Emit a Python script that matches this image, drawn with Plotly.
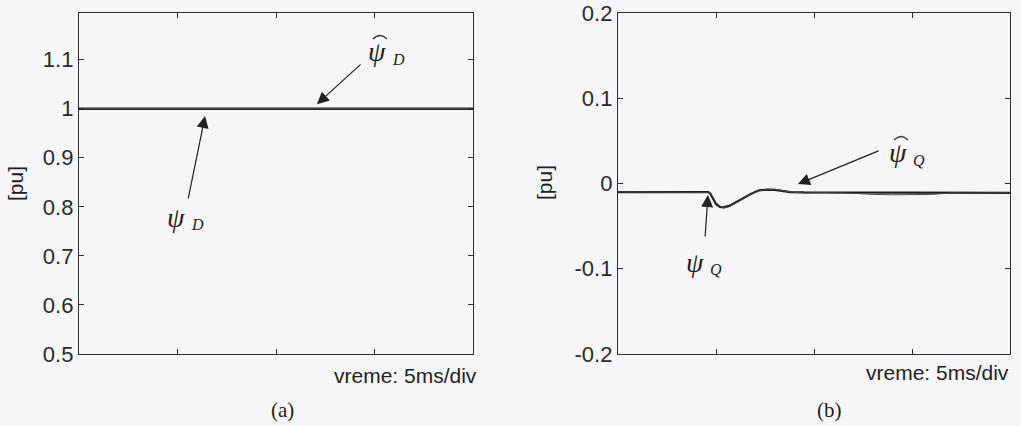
import plotly.graph_objects as go

# Flux linkages in pu; time in ms (5 ms/div, four divisions)
t_d = [0, 20]
psi_d = [1.0, 1.0]
psi_d_hat = [1.0, 1.0]

t_q = [0, 4.6, 4.7, 4.85, 5.0, 5.2, 5.4, 5.7, 6.0, 6.4, 6.8, 7.2, 7.6, 8.0, 8.4, 8.8,
       9.5, 10.5, 12, 13, 14, 15, 16, 17, 18, 19, 20]
psi_q = [-0.0100, -0.0100, -0.0115, -0.0180, -0.0240, -0.0275, -0.0280, -0.0260, -0.0220,
         -0.0170, -0.0120, -0.0080, -0.0072, -0.0074, -0.0085, -0.0100, -0.0105, -0.0105,
         -0.0108, -0.0110, -0.0112, -0.0112, -0.0110, -0.0110, -0.0110, -0.0110, -0.0110]
psi_q_hat = [-0.0098, -0.0098, -0.0105, -0.0160, -0.0225, -0.0270, -0.0285, -0.0270, -0.0230,
             -0.0175, -0.0125, -0.0085, -0.0068, -0.0068, -0.0082, -0.0098, -0.0112, -0.0108,
             -0.0115, -0.0128, -0.0132, -0.0133, -0.0128, -0.0112, -0.0110, -0.0108, -0.0110]

x_ticks = [5, 10, 15]
yd_ticks = [0.5, 0.6, 0.7, 0.8, 0.9, 1.0, 1.1]
yd_text = ["0.5", "0.6", "0.7", "0.8", "0.9", "1", "1.1"]
yq_ticks = [-0.2, -0.1, 0, 0.1, 0.2]
yq_text = ["-0.2", "-0.1", "0", "0.1", "0.2"]

W, H = 1021, 426
BG = "#f6f6f8"
INK = "#1c1c1c"
AX = "#2e2e2e"
SANS = "Liberation Sans, Arial, sans-serif"
SERIF = "Liberation Serif, Times New Roman, serif"

fig = go.Figure()

fig.add_trace(go.Scatter(x=t_d, y=psi_d, xaxis="x", yaxis="y", mode="lines",
                         line=dict(color=INK, width=2.6), showlegend=False))
fig.add_trace(go.Scatter(x=t_d, y=psi_d_hat, xaxis="x", yaxis="y", mode="lines",
                         line=dict(color="#555555", width=1), showlegend=False))
fig.add_trace(go.Scatter(x=t_q, y=psi_q, xaxis="x2", yaxis="y2", mode="lines",
                         line=dict(color=INK, width=2.2), showlegend=False))
fig.add_trace(go.Scatter(x=t_q, y=psi_q_hat, xaxis="x2", yaxis="y2", mode="lines",
                         line=dict(color="#4a4a4a", width=1), showlegend=False))

y_dom = [(H - 354) / H, (H - 13) / H]

def xaxis(dom, anchor):
    return dict(domain=dom, anchor=anchor, range=[0, 20], tickvals=x_ticks,
                showticklabels=False, ticks="inside", ticklen=5, tickwidth=1.2,
                tickcolor=AX, showline=True, linecolor=AX, linewidth=1.3,
                mirror="ticks", showgrid=False, zeroline=False, fixedrange=True,
                automargin=False)

def yaxis(rng, vals, text, anchor):
    return dict(domain=y_dom, anchor=anchor, range=rng, tickvals=vals, ticktext=text,
                ticks="inside", ticklen=5, tickwidth=1.2, tickcolor=AX,
                showline=True, linecolor=AX, linewidth=1.3, mirror="ticks",
                showgrid=False, zeroline=False, fixedrange=True, automargin=False,
                tickfont=dict(family=SANS, size=22, color="#2a2a2a"))

fig.update_layout(
    width=W, height=H, margin=dict(l=0, r=0, t=0, b=0, pad=0, autoexpand=False),
    paper_bgcolor=BG, plot_bgcolor=BG,
    xaxis=xaxis([79 / W, 473 / W], "y"),
    yaxis=yaxis([0.5, 1.195], yd_ticks, yd_text, "x"),
    xaxis2=xaxis([618 / W, 1010 / W], "y2"),
    yaxis2=yaxis([-0.2, 0.2], yq_ticks, yq_text, "x2"),
)

ann = []
shapes = []

def px(x, y, text, size, family, xanchor="center", **kw):
    ann.append(dict(xref="paper", yref="paper", x=x / W, y=1 - y / H, text=text,
                    xanchor=xanchor, yanchor="middle", showarrow=False,
                    font=dict(family=family, size=size, color="#222222"), **kw))

# axis titles
px(15, 184, "[pu]", 21, SANS, textangle=-90)
px(544, 183, "[pu]", 21, SANS, textangle=-90)
# time base notes
px(479, 375, "vreme: 5ms/div", 21, SANS, xanchor="right")
px(1011, 372, "vreme: 5ms/div", 21, SANS, xanchor="right")
# panel captions
px(282, 410, "(a)", 21, SERIF)
px(829, 410, "(b)", 21, SERIF)

# curve labels: psi, its subscript and, for the estimates, a thin hat arc
def label(cx, cy, sub, hat):
    px(cx, cy, "<i>ψ</i>", 28, SERIF)
    px(cx + 21, cy + 7, "<i>" + sub + "</i>", 16, SERIF)
    if hat:
        x0, x1, xm = cx - 4, cx + 10, cx + 3
        yb, yc = cy - 13, cy - 20
        path = "M {:.5f},{:.5f} Q {:.5f},{:.5f} {:.5f},{:.5f}".format(
            x0 / W, 1 - yb / H, xm / W, 1 - yc / H, x1 / W, 1 - yb / H)
        shapes.append(dict(type="path", xref="paper", yref="paper", path=path,
                           line=dict(color="#333333", width=1.3)))

label(377, 52, "D", True)
label(176, 217, "D", False)
label(898, 153, "Q", True)
label(695, 262, "Q", False)

def arrow(xr, yr, hx, hy, tx, ty):
    ann.append(dict(xref=xr, yref=yr, axref=xr, ayref=yr, x=hx, y=hy, ax=tx, ay=ty,
                    text="", showarrow=True, arrowhead=2, arrowsize=2,
                    arrowwidth=1.2, arrowcolor="#222222"))

arrow("x", "y", 12.08, 1.009, 14.37, 1.093)
arrow("x", "y", 6.4, 0.985, 5.53, 0.814)
arrow("x2", "y2", 9.18, -0.0006, 13.37, 0.039)
arrow("x2", "y2", 4.59, -0.0135, 4.44, -0.064)

fig.update_layout(annotations=ann, shapes=shapes)
fig.write_html("out.html")
